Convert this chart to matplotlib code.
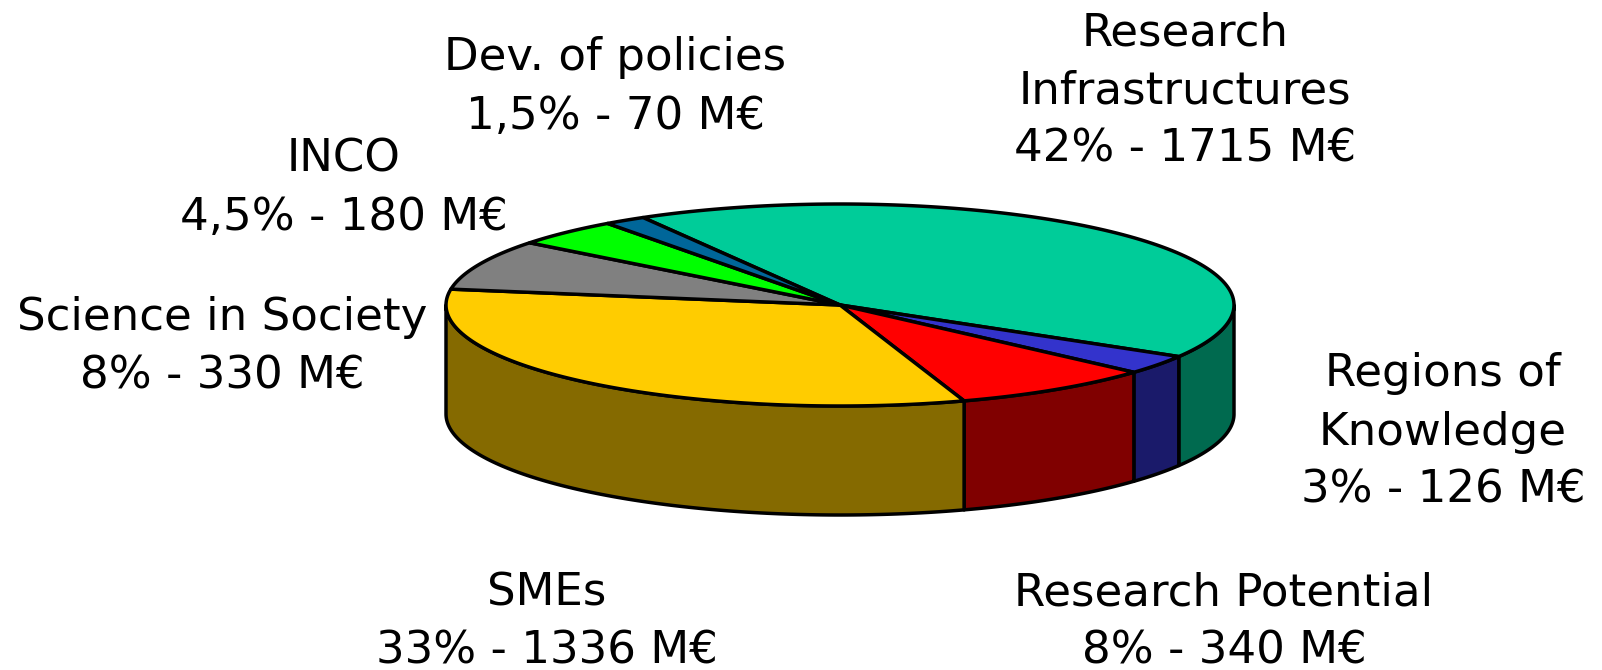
import numpy as np
import matplotlib
matplotlib.use("Agg")
import matplotlib.pyplot as plt
from matplotlib.patches import Polygon

categories = ["Research Infrastructures", "Regions of Knowledge", "Research Potential", "SMEs",
              "Science in Society", "INCO", "Dev. of policies"]
values = [1715, 126, 340, 1336, 330, 180, 70]
top_colors = ["#00CC99", "#3333CC", "#FF0000", "#FFCC00", "#808080", "#00FF00", "#006699"]
side_colors = ["#006A4F", "#1A1A6A", "#800000", "#856A00", "#424242", "#008500", "#003550"]
labels = ["Research\nInfrastructures\n42% - 1715 M€", "Regions of\nKnowledge\n3% - 126 M€",
          "Research Potential\n8% - 340 M€", "SMEs\n33% - 1336 M€", "Science in Society\n8% - 330 M€",
          "INCO\n4,5% - 180 M€", "Dev. of policies\n1,5% - 70 M€"]
label_pos = [(1185, 91), (1443, 432), (1224, 622), (547, 622), (222, 347), (344, 188), (615, 87)]

W, H = 1602, 670
CX, CY, RX, RY, DEPTH = 840, 305, 394, 101, 109
START = 120

fig = plt.figure(figsize=(W / 100, H / 100), dpi=100)
ax = fig.add_axes([0, 0, 1, 1])
ax.set_xlim(0, W)
ax.set_ylim(H, 0)
ax.axis("off")

plt.rcParams["font.family"] = ["DejaVu Sans"]

def arc(a0, a1, dy=0):
    t = np.radians(np.linspace(a0, a1, 120))
    return np.column_stack([CX + RX * np.cos(t), CY + dy - RY * np.sin(t)])

sweeps = np.array(values) / sum(values) * 360
ends = START - np.cumsum(sweeps)
starts = ends + sweeps
LW = 2.5

for a0, a1, c in zip(starts, ends, side_colors):
    # visible wall: the front half of the ellipse, angles 0 to -180
    l, h = max(a1, -180), min(a0, 0)
    if h > l:
        top = arc(h, l)
        bot = arc(l, h, DEPTH)
        ax.add_patch(Polygon(np.vstack([top, bot]), closed=True, fc=c, ec="black", lw=LW, joinstyle="round", zorder=2))

for a0, a1, c in zip(starts, ends, top_colors):
    pts = np.vstack([[CX, CY], arc(a0, a1)])
    ax.add_patch(Polygon(pts, closed=True, fc=c, ec="black", lw=LW, joinstyle="round", zorder=3))

for txt, (x, y) in zip(labels, label_pos):
    ax.text(x, y, txt, ha="center", va="center", fontsize=32.5, color="black", linespacing=1.45, zorder=4)

fig.savefig("out.png", dpi=100, facecolor="white")
